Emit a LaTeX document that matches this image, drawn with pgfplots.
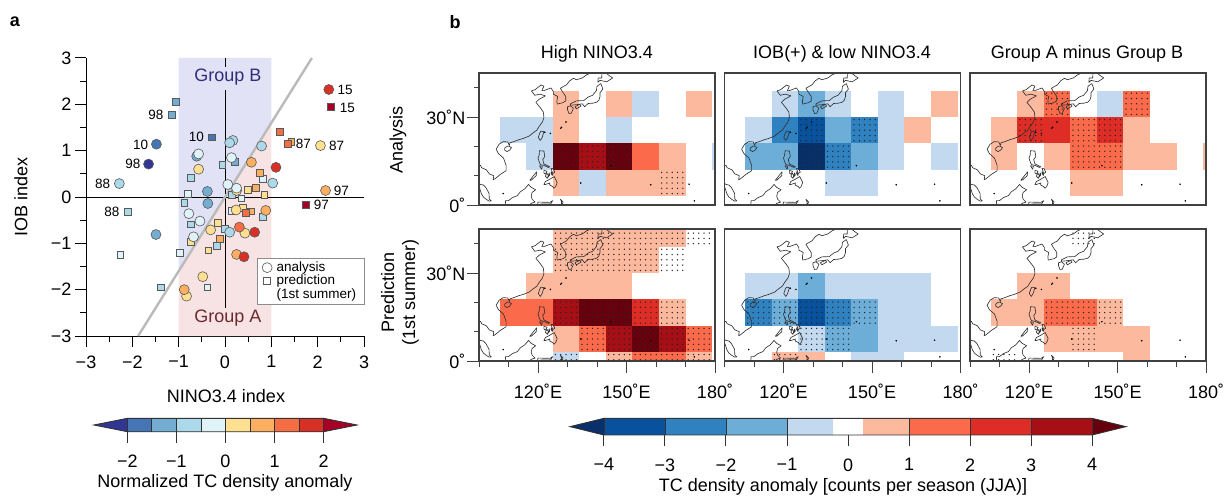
\documentclass[border=0pt]{standalone}
\usepackage{fontspec}
\setmainfont{Liberation Sans}
\usepackage{pgfplots}
\pgfplotsset{compat=1.18}
\newcommand\fa{\fontsize{18}{21}\selectfont}
\newcommand\fb{\fontsize{13.5}{15}\selectfont}
% panel a bins
\definecolor{c1}{HTML}{313695}\definecolor{c2}{HTML}{4575B4}\definecolor{c3}{HTML}{74ADD1}
\definecolor{c4}{HTML}{ABD9E9}\definecolor{c5}{HTML}{E0F3F8}\definecolor{c6}{HTML}{FEE090}
\definecolor{c7}{HTML}{FDAE61}\definecolor{c8}{HTML}{F46D43}\definecolor{c9}{HTML}{D73027}
\definecolor{c10}{HTML}{A50026}
% panel b bins
\definecolor{n1}{HTML}{C3D9EF}\definecolor{n2}{HTML}{6DAED9}\definecolor{n3}{HTML}{2F81BF}
\definecolor{n4}{HTML}{08519C}\definecolor{n5}{HTML}{08306B}
\definecolor{p1}{HTML}{FDB99E}\definecolor{p2}{HTML}{FB6A4A}\definecolor{p3}{HTML}{DE2D26}
\definecolor{p4}{HTML}{A50F15}\definecolor{p5}{HTML}{67000D}
\definecolor{bandb}{HTML}{E1E2F5}\definecolor{banda}{HTML}{F7E3E3}
\definecolor{gb}{HTML}{2F2F78}\definecolor{ga}{HTML}{6B2A30}
% stipple: dots of one grid cell; cells cut by the frame have fewer rows
\pgfdeclareplotmark{stip}{%
  \foreach \i in {-10.6,-5.3,0,5.3,10.6}{\foreach \j in {-10.6,-5.3,0,5.3,10.6}{%
    \pgfpathcircle{\pgfpoint{\i pt}{\j pt}}{0.75pt}}}%
  \pgfusepathqfill}
\pgfdeclareplotmark{stiptwo}{%
  \foreach \i in {-10.6,-5.3,0,5.3,10.6}{\foreach \j in {-2.65,2.65}{%
    \pgfpathcircle{\pgfpoint{\i pt}{\j pt}}{0.75pt}}}%
  \pgfusepathqfill}
\pgfdeclareplotmark{stipthree}{%
  \foreach \i in {-10.6,-5.3,0,5.3,10.6}{\foreach \j in {-5.3,0,5.3}{%
    \pgfpathcircle{\pgfpoint{\i pt}{\j pt}}{0.75pt}}}%
  \pgfusepathqfill}
% one 9x9 degree grid cell, given by its centre
\newcommand{\rcc}[3]{%
  \pgfmathsetmacro\xa{#2-4.5}\pgfmathsetmacro\xb{#2+4.5}%
  \pgfmathsetmacro\ya{#3-4.5}\pgfmathsetmacro\yb{#3+4.5}%
  \edef\tmp{\noexpand\addplot[fill=#1,draw=none] coordinates {(\xa,\ya)(\xb,\ya)(\xb,\yb)(\xa,\yb)} --cycle;}\tmp}
\newcommand{\cell}[2]{\pgfplotsinvokeforeach{#2}{\rcc{#1}##1}}
\newcommand{\stip}[1]{\addplot[only marks,mark=stip,color=black!85] coordinates {#1};}
\newcommand{\stiptwo}[1]{\addplot[only marks,mark=stiptwo,color=black!85] coordinates {#1};}
\newcommand{\stipthree}[1]{\addplot[only marks,mark=stipthree,color=black!85] coordinates {#1};}
\pgfplotsset{coast/.style={draw=black!80,line width=0.65pt,no marks,line join=round}}
\newcommand{\coastlines}{%
\addplot[coast] coordinates {(138.5,45.2)(136.5,44.4)(135,43.3)(133,42.7)(132,43.2)(130.7,42.3)(129.7,41)(127.6,39.8)(128.3,38.6)(129.4,37)(129.4,35.5)(128.5,34.9)(126.5,34.4)(126.4,35.6)(126.7,37)(125.2,37.8)(125.2,38.7)(124.4,39.9)(122,39)(121.3,39)(122,40.5)(121,40.9)(119,39.3)(117.8,38.9)(118.9,37.4)(120.7,37.8)(122.5,37.2)(120.3,36)(119.3,35)(120.9,33)(121.8,31.7)(121.9,30.9)(122,29.8)(121.5,28.3)(120.4,26.8)(119.6,25.5)(118.2,24.5)(117,23.5)(115,22.7)(113.6,22.3)(111.8,21.6)(110.5,21.2)(110.3,20.3)(109.7,21.5)(108.2,21.6)(106.8,20.7)(105.8,19)(106.6,17.5)(108.3,16)(109.2,13.5)(109.2,11.7)(107.2,10.4)(105.5,9)(104.8,8.6)(105,10)(103.5,10.6)(102.5,12)(100.9,12.7)(100.5,13.5)(99.8,13.3)};
\addplot[coast] coordinates {(99.8,7.5)(100.5,7)(101.5,6.8)(102.3,6)(103.4,4)(103.5,2)(104.2,1.4)(103.5,1.3)(102.5,1.9)(101.5,2.7)(100.8,3.8)(100.3,5.5)(99.8,6.5)};
\addplot[coast] coordinates {(121,25.2)(122,25)(121.4,23)(120.8,22)(120.1,23)(120.6,24.5)(121,25.2)};
\addplot[coast] coordinates {(110,20.1)(111,19.6)(110.5,18.8)(109.5,18.2)(108.7,18.7)(108.7,19.4)(109.5,20)(110,20.1)};
\addplot[coast] coordinates {(141.3,41.4)(142,39.5)(141,38.3)(141,36.9)(140.6,35.7)(139.8,35)(138.5,34.7)(137,34.6)(135.8,33.5)(135,34.5)(133,34.2)(131,34)(131,34.5)(133,35.5)(135.5,35.6)(137,36.8)(138.5,37.4)(139.8,39)(140,40.5)(141.3,41.4)};
\addplot[coast] coordinates {(141.7,45.5)(141.6,43.3)(140.4,43.3)(140.3,41.8)(141,42.5)(143.3,42)(145.3,43.3)(144.3,44)(143,45)(142.5,45.5)};
\addplot[coast] coordinates {(132.5,33.5)(134.2,34.3)(134.6,33.7)(133,32.8)(132.5,33.5)};
\addplot[coast] coordinates {(130,33.5)(131,33.8)(132,33)(131.3,31.3)(130.5,31.2)(130,32.5)(130,33.5)};
\addplot[coast] coordinates {(120.5,18.5)(122,18.4)(122.3,16.5)(121.6,15.5)(122,14)(124,13)(123.5,12.8)(122,13.5)(120.8,13.8)(120.3,15)(120,16)(120.4,17)(120.5,18.5)};
\addplot[coast] coordinates {(125,12.5)(125.7,11.2)(125,10.7)(124.4,12.5)(125,12.5)};
\addplot[coast] coordinates {(124.5,11.4)(125,10.2)(124.8,10.1)(124.4,10.9)(124.5,11.4)};
\addplot[coast] coordinates {(122,11.8)(123.1,11.5)(122.5,10.5)(122,11)(122,11.8)};
\addplot[coast] coordinates {(123,10.9)(123.5,10)(123.2,9.1)(122.5,9.8)(123,10.9)};
\addplot[coast] coordinates {(123.8,11)(124,10.2)(123.4,9.5)(123.8,11)};
\addplot[coast] coordinates {(123.5,8.5)(125.5,9.7)(126.5,7.7)(126,6.3)(125.4,5.7)(125,6.3)(124,6.8)(124,7.5)(122.5,7)(122,7)(122.5,8)(123.5,8.5)};
\addplot[coast] coordinates {(117.2,8.4)(119.5,11.3)(119.4,10)(117.8,8.5)(117.2,8.4)};
\addplot[coast] coordinates {(120.5,13.4)(121.5,13.2)(121.2,12.2)(120.5,13.4)};
\addplot[coast] coordinates {(108.9,-0.5)(109,1.5)(110,1.5)(111.3,2.5)(113,3.2)(114,4.5)(115.5,5.5)(116.8,7)(117.7,6)(119.2,5.2)(118,4.3)(117.7,3)(118,2)(119,1)(117.5,0.5)(117.4,-0.5)};
\addplot[coast] coordinates {(119.7,-0.5)(120,1)(124,0.9)(125,1.5)(124.3,0.4)(121,0.4)(120.5,-0.5)};
\addplot[coast] coordinates {(127.6,2)(128,1)(127.9,-0.3)(128.5,1)(127.6,2)};
\addplot[only marks,mark=*,mark size=0.55pt,draw=none,fill=black!80] coordinates {(128,26.5)(127.7,26.2)(129.5,28.3)(124.2,24.4)(134.5,7.5)(158.2,6.9)(171.2,7.1)(173,1.4)(108.2,3.9)(144.7,13.4)(122.3,24.8)};
}
\pgfplotsset{map/.style={scale only axis,width=236pt,height=132pt,anchor=south west,
  xmin=100,xmax=180,ymin=0,ymax=45,
  axis line style={draw=black!75,line width=1.2pt},
  tick style={draw=black!75,line width=1pt},
  major tick length=12pt,minor tick length=5.5pt,tick align=outside,
  xtick pos=bottom,ytick pos=left,
  xtick=\empty,ytick=\empty,
  axis on top,
  tick label style={font=\fa},
  },
  mapx/.style={xtick={120,150,180},xticklabels={120˚E,150˚E,180˚},minor xtick={100,110,130,140,160,170},
  xticklabel style={yshift=-7pt}},
  mapy/.style={ytick={0,30},yticklabels={0˚,30˚N},minor ytick={10,20,40},yticklabel style={xshift=2pt}},
  cbar/.style={scale only axis,anchor=south west,hide y axis,axis x line*=bottom,
    axis line style={draw=none},ymin=0,ymax=1,clip=false,
    tick style={draw=black!80,line width=1pt},
    major tick length=11pt,tick align=outside,tick label style={font=\fa},xtick pos=bottom,
    xticklabel style={yshift=-9pt}},
  rect/.style={fill=#1,draw=none}
}
\begin{document}
\begin{tikzpicture}
\path[use as bounding box] (0,0) rectangle (1225pt,496pt);
% ---------------- panel a ----------------
\begin{axis}[scale only axis,width=278pt,height=278pt,at={(86pt,160pt)},anchor=south west,
  xmin=-3,xmax=3,ymin=-3,ymax=3,clip=false,
  axis x line*=bottom,axis y line*=left,
  axis line style={line width=1pt,-},
  tick style={line width=1pt,black},
  major tick length=11pt,minor tick length=5.7pt,tick align=outside,
  xtick={-3,-2,-1,0,1,2,3},ytick={-3,-2,-1,0,1,2,3},
  xticklabels={−3,−2,−1,0,1,2,3},yticklabels={−3,−2,−1,0,1,2,3},
  minor xtick={-2.5,-1.5,-0.5,0.5,1.5,2.5},minor ytick={-2.5,-1.5,-0.5,0.5,1.5,2.5},
  xticklabel style={yshift=-5pt},
  tick label style={font=\fa}]
\addplot[fill=bandb,draw=none] coordinates {(-1,-1.6)(-1,3)(1,3)(1,1.6)} --cycle;
\addplot[fill=banda,draw=none] coordinates {(-1,-1.6)(-1,-3)(1,-3)(1,1.6)} --cycle;
\addplot[black,line width=1pt] coordinates {(-3,0)(3,0)};
\addplot[black,line width=1pt] coordinates {(0,3)(0,2.81)};
\addplot[black,line width=1pt] coordinates {(0,2.3)(0,-2.4)};
\addplot[color=black!27,line width=2.4pt] coordinates {(-1.875,-3)(1.875,3)};
% prediction
\pgfplotsset{sq/.style={only marks,mark=square*,mark size=3.4pt,mark options={draw=black!65,line width=0.6pt,fill=#1}},
  ci/.style={only marks,mark=*,mark size=5pt,mark options={draw=black!65,line width=0.6pt,fill=#1}}}
\addplot[sq=c5] coordinates {(0.82,0.40)(-0.80,0.07)(0.35,-0.03)(-2.26,-1.25)(-0.38,-1.95)(-0.97,-1.20)(0.15,-0.30)};
\addplot[sq=c4] coordinates {(-0.06,0.70)(-0.73,0.41)(-0.88,-0.12)(0.14,0.05)(-2.09,-0.32)(-1.38,-1.95)(-0.73,-0.59)(-0.01,-0.68)(-0.18,-1.06)(0.81,-0.43)};
\addplot[sq=c3] coordinates {(-1.07,2.06)(-1.14,1.77)(0.22,0.76)};
\addplot[sq=c2] coordinates {(-0.28,1.29)};
\addplot[sq=c6] coordinates {(0.50,0.15)(0.85,0.05)(-0.74,-0.97)(-0.16,-0.55)(-0.36,-1.15)(0.38,-0.24)};
\addplot[sq=c7] coordinates {(1.43,1.19)(0.75,0.53)(0.67,0.20)(-0.11,-0.91)(0.55,-0.31)};
\addplot[sq=c8] coordinates {(1.18,1.41)(1.35,1.15)(0.45,-0.34)};
\addplot[sq=c10] coordinates {(2.29,1.94)(1.75,-0.17)};
% analysis
\addplot[ci=c6] coordinates {(2.06,1.11)(-0.57,0.60)(0.25,0.14)(-0.31,-0.71)(0.24,-0.28)(0.43,-0.78)(-0.48,-1.72)(-0.83,-2.14)};
\addplot[ci=c4] coordinates {(-2.28,0.29)(0.17,1.22)(0.10,1.17)(0.79,1.10)(1.03,0.30)(0.10,-0.76)};
\addplot[ci=c3] coordinates {(-0.61,0.88)(-0.38,0.12)(-0.37,-0.14)(-1.49,-0.81)};
\addplot[ci=c2] coordinates {(-1.48,1.14)};
\addplot[ci=c1] coordinates {(-1.65,0.71)};
\addplot[ci=c5] coordinates {(-0.57,0.93)(0.14,0.85)(0.06,0.27)(0.25,0.19)(-0.78,-0.36)(-0.54,-0.52)(-0.68,-0.86)};
\addplot[ci=c7] coordinates {(2.17,0.14)(0.57,0.75)(0.88,-0.29)(0.25,-1.24)(-0.88,-2.0)};
\addplot[ci=c8] coordinates {(0.31,-0.65)};
\addplot[ci=c9] coordinates {(2.24,2.32)(1.10,0.64)(0.64,-0.76)(0.41,-1.29)};
% legend
\addplot[fill=white,draw=black!45,line width=0.8pt] coordinates {(0.70,-1.32)(3,-1.32)(3,-2.32)(0.70,-2.32)} --cycle;
\addplot[only marks,mark=*,mark size=5pt,mark options={draw=black!65,line width=0.6pt,fill=white}] coordinates {(0.91,-1.525)};
\addplot[only marks,mark=square*,mark size=3.4pt,mark options={draw=black!65,line width=0.6pt,fill=white}] coordinates {(0.91,-1.814)};
\node[anchor=west,inner sep=0pt,font=\fb] at (axis cs:1.11,-1.525) {analysis};
\node[anchor=west,inner sep=0pt,font=\fb] at (axis cs:1.11,-1.82) {prediction};
\node[anchor=west,inner sep=0pt,font=\fb] at (axis cs:1.11,-2.12) {(1st summer)};
% labels
\node[font=\fb] at (axis cs:2.59,2.32) {15};
\node[font=\fb] at (axis cs:2.64,1.93) {15};
\node[font=\fb] at (axis cs:1.69,1.15) {87};
\node[font=\fb] at (axis cs:2.41,1.11) {87};
\node[font=\fb] at (axis cs:2.51,0.14) {97};
\node[font=\fb] at (axis cs:2.08,-0.16) {97};
\node[font=\fb] at (axis cs:-1.49,1.77) {98};
\node[font=\fb] at (axis cs:-1.82,1.13) {10};
\node[font=\fb] at (axis cs:-1.99,0.71) {98};
\node[font=\fb] at (axis cs:-2.64,0.29) {88};
\node[font=\fb] at (axis cs:-0.62,1.29) {10};
\node[font=\fb] at (axis cs:-2.44,-0.32) {88};
\node[font=\fa,color=gb] at (axis cs:0.06,2.58) {Group B};
\node[font=\fa,color=ga] at (axis cs:0.06,-2.62) {Group A};
\end{axis}
% ---------------- map 1,1 ----------------
\begin{axis}[map,at={(479pt,291pt)},mapy]
\cell{p1}{{129.5}{34.5},{147.5}{34.5},{174.5}{34.5},{129.5}{25.5},{165.5}{16.5},{129.5}{7.5},{147.5}{7.5},{156.5}{7.5},{165.5}{7.5}}
\cell{n1}{{156.5}{34.5},{111.5}{25.5},{120.5}{25.5},{147.5}{25.5},{120.5}{16.5},{183.5}{16.5},{138.5}{7.5}}
\cell{p5}{{129.5}{16.5},{147.5}{16.5}}
\cell{p4}{{138.5}{16.5}}
\cell{p2}{{156.5}{16.5}}
\coastlines
\stip{(129.5,16.5)(138.5,16.5)(147.5,16.5)(165.5,7.5)}
\end{axis}
% ---------------- map 1,2 ----------------
\begin{axis}[map,at={(724.5pt,291pt)}]
\cell{n1}{{120.5}{34.5},{138.5}{34.5},{156.5}{34.5},{111.5}{25.5},{156.5}{25.5},{156.5}{16.5},{174.5}{16.5},{138.5}{7.5},{147.5}{7.5}}
\cell{n2}{{129.5}{34.5},{138.5}{25.5},{111.5}{16.5},{120.5}{16.5},{147.5}{16.5}}
\cell{n3}{{120.5}{25.5},{147.5}{25.5},{138.5}{16.5}}
\cell{n4}{{129.5}{25.5}}
\cell{n5}{{129.5}{16.5}}
\cell{p1}{{174.5}{34.5},{165.5}{25.5}}
\coastlines
\stip{(129.5,25.5)(147.5,25.5)(129.5,16.5)(138.5,16.5)}
\end{axis}
% ---------------- map 1,3 ----------------
\begin{axis}[map,at={(970pt,291pt)}]
\cell{p1}{{120.5}{34.5},{111.5}{25.5},{156.5}{25.5},{111.5}{16.5},{129.5}{16.5},{156.5}{16.5},{165.5}{16.5},{183.5}{16.5},{138.5}{7.5},{147.5}{7.5}}
\cell{p2}{{129.5}{34.5},{156.5}{34.5},{138.5}{25.5},{138.5}{16.5},{147.5}{16.5}}
\cell{p3}{{120.5}{25.5},{129.5}{25.5},{147.5}{25.5}}
\cell{n1}{{147.5}{34.5}}
\coastlines
\stip{(129.5,34.5)(156.5,34.5)(120.5,25.5)(138.5,25.5)(147.5,25.5)(138.5,16.5)(147.5,16.5)}
\end{axis}
% ---------------- map 2,1 ----------------
\begin{axis}[map,at={(479pt,135pt)},mapx,mapy]
\cell{p1}{{129.5}{43.5},{138.5}{43.5},{147.5}{43.5},{156.5}{43.5},{165.5}{43.5},{129.5}{34.5},{138.5}{34.5},{147.5}{34.5},{156.5}{34.5},{120.5}{25.5},{129.5}{25.5},{138.5}{25.5},{147.5}{25.5},{165.5}{16.5},{129.5}{7.5},{147.5}{-1.5},{174.5}{-1.5}}
\cell{p2}{{111.5}{16.5},{120.5}{16.5},{138.5}{7.5},{174.5}{7.5},{156.5}{-1.5},{165.5}{-1.5}}
\cell{p3}{{156.5}{16.5}}
\cell{p4}{{129.5}{16.5},{147.5}{7.5},{165.5}{7.5}}
\cell{p5}{{138.5}{16.5},{147.5}{16.5},{156.5}{7.5}}
\cell{n1}{{129.5}{-1.5}}
\coastlines
\stipthree{(129.5,41.8)(138.5,41.8)(147.5,41.8)(156.5,41.8)(165.5,41.8)(174.5,41.8)}
\stip{(129.5,34.5)(138.5,34.5)(147.5,34.5)(156.5,34.5)(165.5,34.5)(129.5,16.5)(138.5,16.5)(147.5,16.5)(156.5,16.5)(165.5,16.5)(138.5,7.5)(147.5,7.5)(156.5,7.5)(165.5,7.5)(174.5,7.5)}
\stiptwo{(129.5,1.3)(147.5,1.3)(156.5,1.3)(165.5,1.3)(174.5,1.3)}
\end{axis}
% ---------------- map 2,2 ----------------
\begin{axis}[map,at={(724.5pt,135pt)},mapx]
\cell{n1}{{111.5}{25.5},{120.5}{25.5},{138.5}{25.5},{147.5}{25.5},{156.5}{25.5},{165.5}{25.5},{156.5}{16.5},{165.5}{16.5},{129.5}{7.5},{156.5}{7.5},{165.5}{7.5},{174.5}{7.5},{147.5}{-1.5},{156.5}{-1.5}}
\cell{n2}{{129.5}{25.5},{120.5}{16.5},{147.5}{16.5},{138.5}{7.5},{147.5}{7.5}}
\cell{n3}{{111.5}{16.5},{138.5}{16.5}}
\cell{n4}{{129.5}{16.5}}
\cell{p1}{{120.5}{-1.5},{129.5}{-1.5}}
\coastlines
\stip{(111.5,16.5)(120.5,16.5)(129.5,16.5)(138.5,16.5)(147.5,16.5)(129.5,7.5)(138.5,7.5)}
\stiptwo{(120.5,1.3)}
\end{axis}
% ---------------- map 2,3 ----------------
\begin{axis}[map,at={(970pt,135pt)},mapx]
\cell{p1}{{120.5}{25.5},{129.5}{25.5},{111.5}{16.5},{120.5}{16.5},{147.5}{16.5},{129.5}{7.5},{138.5}{7.5},{147.5}{7.5},{156.5}{7.5},{156.5}{-1.5}}
\cell{p2}{{129.5}{16.5},{138.5}{16.5}}
\coastlines
\stipthree{(138.5,41.8)}
\stip{(129.5,16.5)(138.5,16.5)(147.5,16.5)(138.5,7.5)}
\stiptwo{(111.5,1.3)}
\end{axis}
% ---------------- colour bar a ----------------
\begin{axis}[cbar,at={(94pt,64.3pt)},width=263pt,height=13.4pt,xmin=-2.68,xmax=2.68,
  xtick={-2,-1,0,1,2},xticklabels={−2,−1,0,1,2}]
\addplot[rect=c1] coordinates {(-2,0)(-2,1)(-2.68,0.5)} --cycle;
\addplot[rect=c2] coordinates {(-2,0)(-1.5,0)(-1.5,1)(-2,1)} --cycle;
\addplot[rect=c3] coordinates {(-1.5,0)(-1,0)(-1,1)(-1.5,1)} --cycle;
\addplot[rect=c4] coordinates {(-1,0)(-0.5,0)(-0.5,1)(-1,1)} --cycle;
\addplot[rect=c5] coordinates {(-0.5,0)(0,0)(0,1)(-0.5,1)} --cycle;
\addplot[rect=c6] coordinates {(0,0)(0.5,0)(0.5,1)(0,1)} --cycle;
\addplot[rect=c7] coordinates {(0.5,0)(1,0)(1,1)(0.5,1)} --cycle;
\addplot[rect=c8] coordinates {(1,0)(1.5,0)(1.5,1)(1,1)} --cycle;
\addplot[rect=c9] coordinates {(1.5,0)(2,0)(2,1)(1.5,1)} --cycle;
\addplot[rect=c10] coordinates {(2,0)(2,1)(2.68,0.5)} --cycle;
\addplot[black!80,line width=0.9pt] coordinates {(-2.68,0.5)(-2,1)(2,1)(2.68,0.5)(2,0)(-2,0)} --cycle;
\addplot[ycomb,no marks,black!80,line width=0.9pt] coordinates {(-2,1)(-1.5,1)(-1,1)(-0.5,1)(0,1)(0.5,1)(1,1)(1.5,1)(2,1)};
\end{axis}
% ---------------- colour bar b ----------------
\begin{axis}[cbar,at={(570pt,61pt)},width=556pt,height=16.7pt,xmin=-4.557,xmax=4.557,
  xtick={-4,-3,-2,-1,0,1,2,3,4},xticklabels={−4,−3,−2,−1,0,1,2,3,4}]
\addplot[rect=n5] coordinates {(-4,0)(-4,1)(-4.557,0.5)} --cycle;
\addplot[rect=n4] coordinates {(-4,0)(-3,0)(-3,1)(-4,1)} --cycle;
\addplot[rect=n3] coordinates {(-3,0)(-2,0)(-2,1)(-3,1)} --cycle;
\addplot[rect=n2] coordinates {(-2,0)(-1,0)(-1,1)(-2,1)} --cycle;
\addplot[rect=n1] coordinates {(-1,0)(-0.25,0)(-0.25,1)(-1,1)} --cycle;
\addplot[rect=p1] coordinates {(0.25,0)(1,0)(1,1)(0.25,1)} --cycle;
\addplot[rect=p2] coordinates {(1,0)(2,0)(2,1)(1,1)} --cycle;
\addplot[rect=p3] coordinates {(2,0)(3,0)(3,1)(2,1)} --cycle;
\addplot[rect=p4] coordinates {(3,0)(4,0)(4,1)(3,1)} --cycle;
\addplot[rect=p5] coordinates {(4,0)(4,1)(4.557,0.5)} --cycle;
\addplot[black!80,line width=0.9pt] coordinates {(-4.557,0.5)(-4,1)(4,1)(4.557,0.5)(4,0)(-4,0)} --cycle;
\addplot[ycomb,no marks,black!80,line width=0.8pt] coordinates {(-4,1)(-3,1)(-2,1)(-1,1)(1,1)(2,1)(3,1)(4,1)};
\end{axis}
% ---------------- text ----------------
\node[font=\fa\bfseries] at (15pt,474pt) {a};
\node[font=\fa\bfseries] at (455pt,474pt) {b};
\node[font=\fa] at (226pt,100pt) {NINO3.4 index};
\node[font=\fa,rotate=90] at (21pt,299pt) {IOB index};
\node[font=\fa] at (225pt,13.5pt) {Normalized TC density anomaly};
\node[font=\fa] at (843pt,9pt) {TC density anomaly [counts per season (JJA)]};
\node[font=\fa] at (597pt,442pt) {High NINO3.4};
\node[font=\fa] at (842pt,442pt) {IOB(+) \& low NINO3.4};
\node[font=\fa] at (1087pt,442pt) {Group A minus Group B};
\node[font=\fa,rotate=90] at (398pt,356pt) {Analysis};
\node[font=\fa,rotate=90,align=center] at (400pt,204pt) {Prediction\\(1st summer)};
\end{tikzpicture}
\end{document}
